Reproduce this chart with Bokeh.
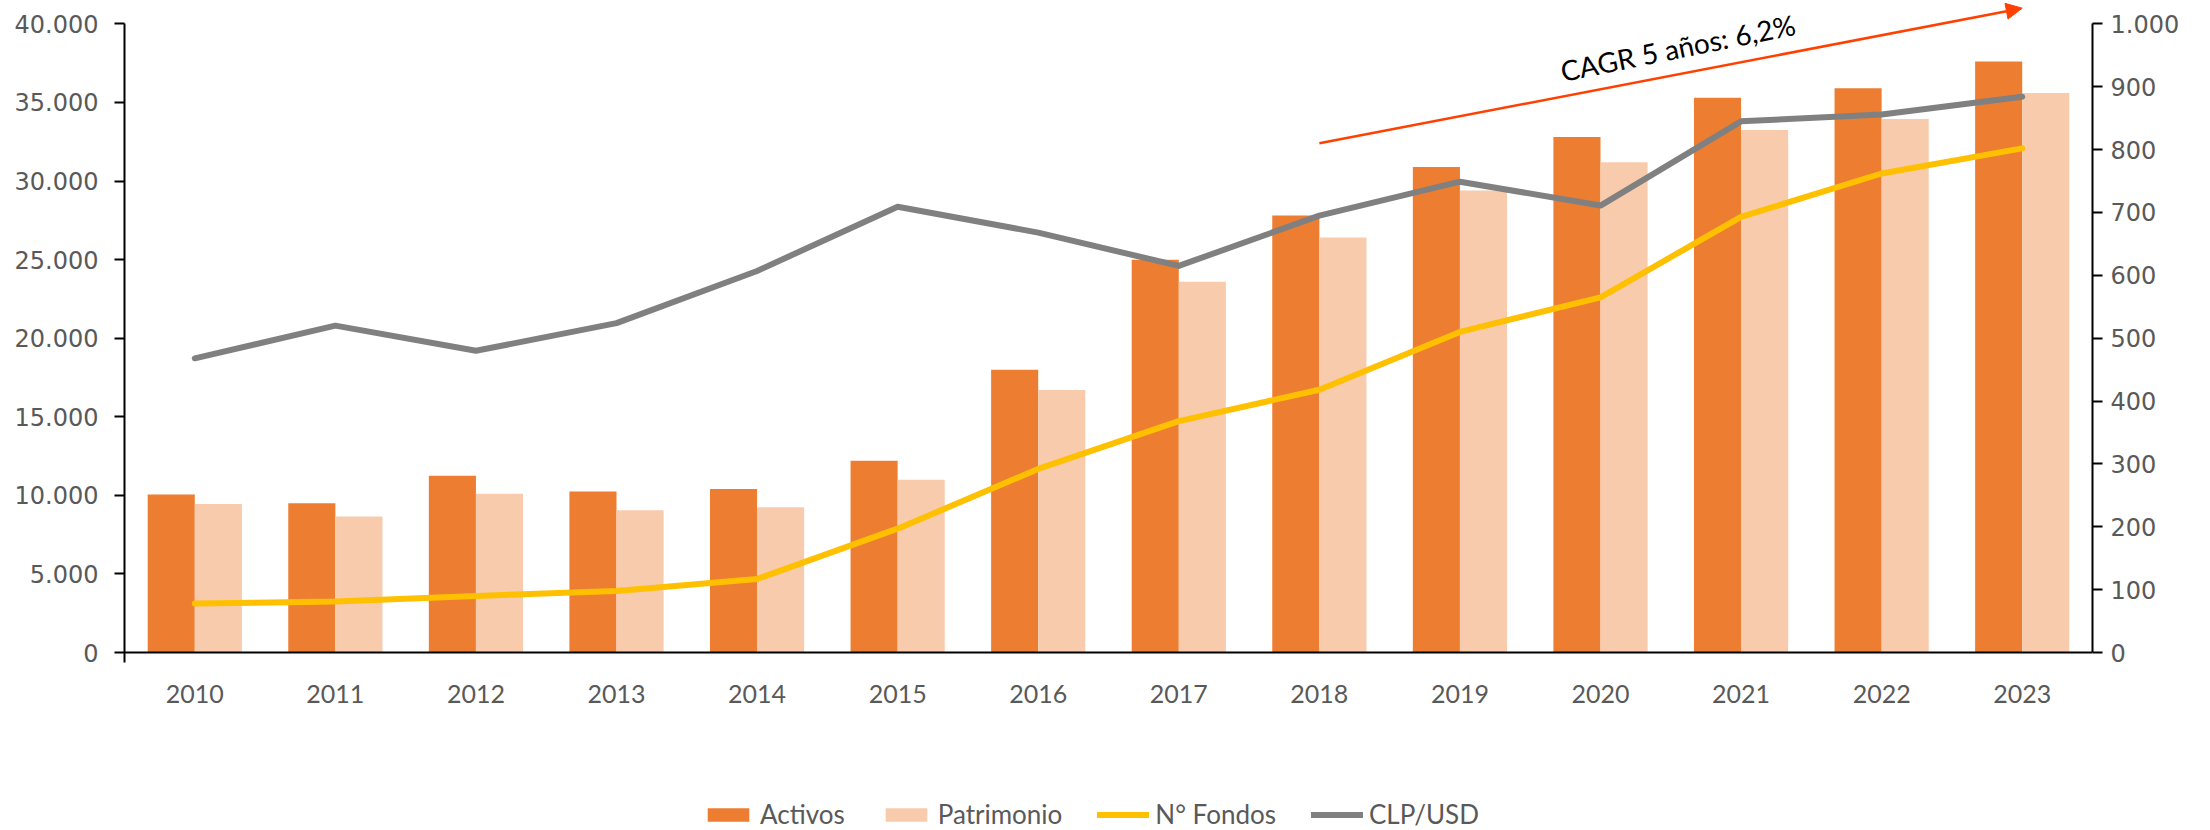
from bokeh.plotting import figure
from bokeh.models import (FactorRange, Range1d, LinearAxis, FixedTicker, Arrow, NormalHead,
                          Label, Legend, LegendItem, ColumnDataSource)
from bokeh.transform import dodge
from bokeh.embed import file_html
from bokeh.resources import INLINE

years = ["2010", "2011", "2012", "2013", "2014", "2015", "2016",
         "2017", "2018", "2019", "2020", "2021", "2022", "2023"]
activos = [10050, 9500, 11250, 10250, 10400, 12200, 18000,
           25000, 27800, 30900, 32800, 35300, 35900, 37600]
patrimonio = [9450, 8650, 10100, 9050, 9250, 11000, 16700,
              23600, 26400, 29400, 31200, 33250, 33950, 35600]
n_fondos = [78, 81, 90, 98, 117, 197, 292, 368, 418, 510, 565, 693, 762, 802]
clp_usd = [468, 520, 480, 524, 607, 709, 668, 615, 695, 749, 711, 845, 856, 884]

left_ticks = [0, 5000, 10000, 15000, 20000, 25000, 30000, 35000, 40000]
left_labels = ["0", "5.000", "10.000", "15.000", "20.000", "25.000", "30.000", "35.000", "40.000"]
right_ticks = [0, 100, 200, 300, 400, 500, 600, 700, 800, 900, 1000]
right_labels = ["0", "100", "200", "300", "400", "500", "600", "700", "800", "900", "1.000"]

cagr_text = "CAGR 5 años: 6,2%"
arrow_from = (8.5, 32400)   # 2018 centre
arrow_to = (13.5, 41000)    # 2023 centre

src = ColumnDataSource(dict(year=years, activos=activos, patrimonio=patrimonio,
                            fondos=n_fondos, clp=clp_usd))

# The frame fills the full height so the arrow, note and legend are not clipped.
# Axis scale: 0..max spans 628.6 px, zero line 652 px from the top, canvas 830 px tall.
LEFT_MAX, RIGHT_MAX = 40000, 1000
H, ZERO_Y, SPAN = 830, 652, 628.6
top_f, bot_f = ZERO_Y / SPAN, (H - ZERO_Y) / SPAN

p = figure(x_range=FactorRange(*years),
           y_range=Range1d(-LEFT_MAX * bot_f, LEFT_MAX * top_f),
           width=2210, height=H, output_backend="svg", toolbar_location=None,
           min_border_left=124, min_border_right=118, min_border_top=0, min_border_bottom=0)
p.extra_y_ranges = {"right": Range1d(-RIGHT_MAX * bot_f, RIGHT_MAX * top_f)}
p.outline_line_color = None
p.xgrid.visible = False
p.ygrid.visible = False

label_color = "#595959"

yax = p.yaxis[0]
yax.ticker = FixedTicker(ticks=left_ticks)
yax.bounds = (-LEFT_MAX * 10 / SPAN, LEFT_MAX)   # line runs ~10 px below the x axis
yax.major_label_overrides = {t: l for t, l in zip(left_ticks, left_labels)}
yax.axis_line_color = "black"
yax.axis_line_width = 2
yax.major_tick_line_color = "black"
yax.major_tick_line_width = 2
yax.major_tick_out = 10
yax.major_tick_in = 0
yax.minor_tick_line_color = None
yax.major_label_standoff = 16
yax.major_label_text_font = "DejaVu Sans"
yax.major_label_text_font_size = "24px"
yax.major_label_text_color = label_color

rax = LinearAxis(y_range_name="right", ticker=FixedTicker(ticks=right_ticks))
rax.bounds = (0, RIGHT_MAX)
rax.major_label_overrides = {t: l for t, l in zip(right_ticks, right_labels)}
rax.axis_line_color = "black"
rax.axis_line_width = 2
rax.major_tick_line_color = "black"
rax.major_tick_line_width = 2
rax.major_tick_out = 10
rax.major_tick_in = 0
rax.minor_tick_line_color = None
rax.major_label_standoff = 8
rax.major_label_text_font = "DejaVu Sans"
rax.major_label_text_font_size = "24px"
rax.major_label_text_color = label_color
p.add_layout(rax, "right")

xax = p.xaxis[0]
xax.fixed_location = 0
xax.axis_line_color = "black"
xax.axis_line_width = 2
xax.major_tick_line_color = None
xax.minor_tick_line_color = None
xax.major_label_standoff = 26
xax.major_label_text_font = "Lato"
xax.major_label_text_font_size = "25px"
xax.major_label_text_color = label_color

r_act = p.vbar(x=dodge("year", -0.1675, range=p.x_range), top="activos", width=0.335,
               source=src, fill_color="#ED7D31", line_color=None)
r_pat = p.vbar(x=dodge("year", 0.1675, range=p.x_range), top="patrimonio", width=0.335,
               source=src, fill_color="#F8CBAD", line_color=None)
r_fon = p.line(x="year", y="fondos", source=src, y_range_name="right",
               line_color="#FFC000", line_width=6, line_join="round", line_cap="round")
r_clp = p.line(x="year", y="clp", source=src, y_range_name="right",
               line_color="#808080", line_width=6, line_join="round", line_cap="round")

arrow_color = "#FF4000"
p.add_layout(Arrow(end=NormalHead(size=16, fill_color=arrow_color, line_color=arrow_color),
                   x_start=arrow_from[0], y_start=arrow_from[1],
                   x_end=arrow_to[0], y_end=arrow_to[1],
                   line_color=arrow_color, line_width=2.5))

p.add_layout(Label(x=11.05, y=38500, text=cagr_text, angle=0.2,
                   text_align="center", text_baseline="middle",
                   text_font="Lato", text_font_size="28px", text_color="black"))

legend = Legend(items=[LegendItem(label="Activos", renderers=[r_act]),
                       LegendItem(label="Patrimonio", renderers=[r_pat]),
                       LegendItem(label="N° Fondos", renderers=[r_fon]),
                       LegendItem(label="CLP/USD", renderers=[r_clp])],
                orientation="horizontal", location=(578, 0),
                glyph_width=52, glyph_height=17, label_standoff=6, spacing=35,
                padding=0, margin=0, border_line_color=None, background_fill_alpha=0,
                label_text_font="Lato", label_text_font_size="26px",
                label_text_color=label_color)
p.add_layout(legend)

open("out.html", "w").write(file_html(p, INLINE))
